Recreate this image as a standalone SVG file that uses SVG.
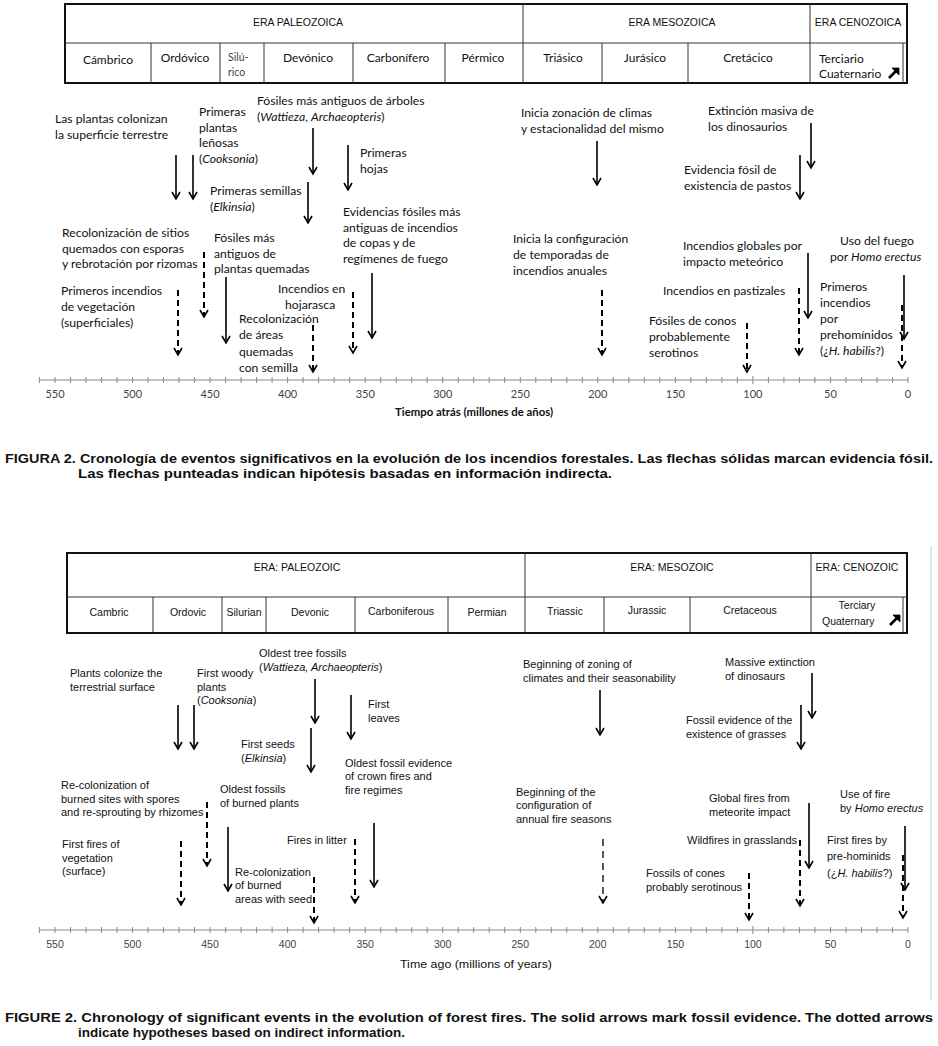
<svg xmlns="http://www.w3.org/2000/svg" width="938" height="1046" viewBox="0 0 938 1046">
<style>
.bg{fill:#fff}
.tb{fill:none;stroke:#111;stroke-width:2}
.tl{fill:none;stroke:#333;stroke-width:1}
.era{font-family:'Liberation Sans',Arial,sans-serif;font-size:10.5px;fill:#111;text-anchor:middle}
.per{font-family:Lato,'Liberation Sans',sans-serif;font-size:12px;fill:#111;text-anchor:middle}
.perl{font-family:Lato,'Liberation Sans',sans-serif;font-size:12px;fill:#111}
.eraen{font-family:'Liberation Sans Narrow','Liberation Sans',Arial,sans-serif;font-size:10.5px;fill:#111;text-anchor:middle}
.peren{font-family:'Liberation Sans Narrow','Liberation Sans',Arial,sans-serif;font-size:10.5px;fill:#111;text-anchor:middle}
.perenl{font-family:'Liberation Sans Narrow','Liberation Sans',Arial,sans-serif;font-size:10.5px;fill:#111}
.es{font-family:Lato,'Liberation Sans',sans-serif;font-size:12.2px;fill:#111}
.en{font-family:'Liberation Sans',Arial,sans-serif;font-size:11px;fill:#111}
.i{font-style:italic}
.sol{fill:none;stroke:#000;stroke-width:1.6;marker-end:url(#ah)}
.dsh{fill:none;stroke:#000;stroke-width:2;stroke-dasharray:6 4;marker-end:url(#ah)}
.axis{fill:none;stroke:#8a8a8a;stroke-width:1}
.tk{font-family:Lato,'Liberation Sans',sans-serif;font-size:11px;fill:#444;text-anchor:middle}
.tken{font-family:'Liberation Sans Narrow','Liberation Sans',Arial,sans-serif;font-size:10.5px;fill:#444;text-anchor:middle}
.ttl{font-family:Lato,'Liberation Sans',sans-serif;font-size:11.5px;font-weight:bold;fill:#111}
.ttlen{font-family:'Liberation Sans Narrow','Liberation Sans',Arial,sans-serif;font-size:11px;fill:#111}
.cap{font-family:'Liberation Sans Narrow','Liberation Sans',Arial,sans-serif;font-size:12.5px;font-weight:bold;fill:#111}
</style>
<defs>
<marker id="ah" viewBox="-1 -6 10 12" markerWidth="10" markerHeight="12" refX="7" refY="0" orient="auto" markerUnits="userSpaceOnUse">
<path d="M0,-4 L7,0 L0,4" fill="none" stroke="#000" stroke-width="1.6"/>
</marker>
<g id="ne">
<path d="M-5,5 L2,-2" stroke="#000" stroke-width="2.6" fill="none"/>
<path d="M-2,-5 L5,-5 L5,2 Z" fill="#000" stroke="#000" stroke-width="0.8"/>
</g>
<path id="ticks" class="axis" d="M39.4,0 H908 M908,-3 v6 M892.5,-3 v6 M877,-3 v6 M861.5,-3 v6 M846,-3 v6 M830.5,-3 v6 M814.9,-3 v6 M799.4,-3 v6 M783.9,-3 v6 M768.4,-3 v6 M752.9,-4 v8 M737.4,-3 v6 M721.9,-3 v6 M706.4,-3 v6 M690.9,-3 v6 M675.4,-3 v6 M659.8,-3 v6 M644.3,-3 v6 M628.8,-3 v6 M613.3,-3 v6 M597.8,-3 v6 M582.3,-3 v6 M566.8,-3 v6 M551.3,-3 v6 M535.8,-3 v6 M520.3,-3 v6 M504.7,-3 v6 M489.2,-3 v6 M473.7,-3 v6 M458.2,-3 v6 M442.7,-3 v6 M427.2,-3 v6 M411.7,-3 v6 M396.2,-3 v6 M380.7,-3 v6 M365.2,-3 v6 M349.6,-3 v6 M334.1,-3 v6 M318.6,-3 v6 M303.1,-3 v6 M287.6,-3 v6 M272.1,-3 v6 M256.6,-3 v6 M241.1,-3 v6 M225.6,-3 v6 M210.1,-3 v6 M194.5,-3 v6 M179,-3 v6 M163.5,-3 v6 M148,-3 v6 M132.5,-3 v6 M117,-3 v6 M101.5,-3 v6 M86,-3 v6 M70.5,-3 v6 M55,-3 v6 M39.4,-3 v6"/>
</defs>
<rect class="bg" x="0" y="0" width="938" height="1046"/>

<!-- ============ TOP PANEL (Spanish) ============ -->
<g id="tabla-es">
<rect class="tb" x="65" y="4" width="842" height="79"/>
<path class="tl" d="M65,43 H907 M523,4 V83 M810,4 V83 M151,43 V83 M220,43 V83 M264,43 V83 M353,43 V83 M445,43 V83 M602,43 V83 M688,43 V83 M903,43 V83"/>
<text class="era" x="298" y="26">ERA PALEOZOICA</text>
<text class="era" x="672" y="26">ERA MESOZOICA</text>
<text class="era" x="858" y="26">ERA CENOZOICA</text>
<text class="per" x="108" y="64">Cámbrico</text>
<text class="per" x="185" y="62">Ordóvico</text>
<text class="perl" x="228" y="61" style="font-size:10.5px;fill:#444">Silú-</text>
<text class="perl" x="228" y="76" style="font-size:10.5px;fill:#444">rico</text>
<text class="per" x="308" y="62">Devónico</text>
<text class="per" x="398" y="62">Carbonífero</text>
<text class="per" x="483" y="62">Pérmico</text>
<text class="per" x="563" y="62">Triásico</text>
<text class="per" x="645" y="62">Jurásico</text>
<text class="per" x="748" y="62">Cretácico</text>
<text class="perl" x="819" y="63">Terciario</text>
<text class="perl" x="819" y="78">Cuaternario</text>
<use href="#ne" x="894" y="73"/>
</g>

<g id="conectores-es">
<path class="sol" d="M176,155 V199"/>
<path class="sol" d="M193,155 V199"/>
<path class="sol" d="M313,128 V174"/>
<path class="sol" d="M348,145 V190"/>
<path class="sol" d="M308,182 V223"/>
<path class="sol" d="M372,273 V338"/>
<path class="sol" d="M226,277 V343"/>
<path class="dsh" d="M204,252 V317"/>
<path class="dsh" d="M178,290 V355"/>
<path class="dsh" d="M353,292 V353"/>
<path class="dsh" d="M313,325 V372"/>
<path class="sol" d="M597,141 V185"/>
<path class="sol" d="M811,123 V168"/>
<path class="sol" d="M800,155 V199"/>
<path class="dsh" d="M602,290 V355"/>
<path class="sol" d="M808,253 V318"/>
<path class="dsh" d="M799,288 V355"/>
<path class="sol" d="M904,275 V339"/>
<path class="dsh" d="M902,305 V368"/>
<path class="dsh" d="M747,323 V372"/>
</g>

<g id="e-plantas"><text class="es" x="55" y="123">Las plantas colonizan<tspan x="55" dy="15.5">la superficie  terrestre</tspan></text></g>
<g id="e-lenosas"><text class="es" x="199" y="116">Primeras<tspan x="199" dy="15.5">plantas</tspan><tspan x="199" dy="15.5">leñosas</tspan><tspan x="199" dy="15.5">(<tspan class="i">Cooksonia</tspan>)</tspan></text></g>
<g id="e-arboles"><text class="es" x="257" y="105">Fósiles más antiguos de árboles<tspan x="257" dy="16">(<tspan class="i">Wattieza</tspan>, <tspan class="i">Archaeopteris</tspan>)</tspan></text></g>
<g id="e-hojas"><text class="es" x="360" y="157">Primeras<tspan x="360" dy="16">hojas</tspan></text></g>
<g id="e-semillas"><text class="es" x="210" y="195">Primeras semillas<tspan x="210" dy="16">(<tspan class="i">Elkinsia</tspan>)</tspan></text></g>
<g id="e-copas"><text class="es" x="343" y="216">Evidencias fósiles más<tspan x="343" dy="15.7">antiguas de incendios</tspan><tspan x="343" dy="15.7">de copas y de</tspan><tspan x="343" dy="15.7">regímenes  de fuego</tspan></text></g>
<g id="e-recolon-sitios"><text class="es" x="62" y="237">Recolonización  de sitios<tspan x="62" dy="15.5">quemados con esporas</tspan><tspan x="62" dy="15.5">y rebrotación por  rizomas</tspan></text></g>
<g id="e-quemadas"><text class="es" x="214" y="242">Fósiles más<tspan x="214" dy="15.5">antiguos de</tspan><tspan x="214" dy="15.5">plantas quemadas</tspan></text></g>
<g id="e-primeros"><text class="es" x="61" y="295">Primeros incendios<tspan x="61" dy="16">de vegetación</tspan><tspan x="61" dy="15.5">(superficiales)</tspan></text></g>
<g id="e-hojarasca"><text class="es" x="278" y="293">Incendios  en<tspan x="285" dy="15.5">hojarasca</tspan></text></g>
<g id="e-recolon-areas"><text class="es" x="239" y="323">Recolonización<tspan x="239" dy="16.3">de áreas</tspan><tspan x="239" dy="16.3">quemadas</tspan><tspan x="239" dy="16.3">con semilla</tspan></text></g>
<g id="e-climas"><text class="es" x="521" y="117">Inicia zonación de climas<tspan x="521" dy="15.5">y estacionalidad del mismo</tspan></text></g>
<g id="e-dinos"><text class="es" x="708" y="115">Extinción masiva de<tspan x="708" dy="16">los dinosaurios</tspan></text></g>
<g id="e-pastos"><text class="es" x="684" y="174">Evidencia fósil de<tspan x="684" dy="16">existencia de pastos</tspan></text></g>
<g id="e-temporadas"><text class="es" x="513" y="243">Inicia la configuración<tspan x="513" dy="16">de temporadas de</tspan><tspan x="513" dy="16">incendios anuales</tspan></text></g>
<g id="e-meteorico"><text class="es" x="683" y="250">Incendios globales por<tspan x="683" dy="16">impacto meteórico</tspan></text></g>
<g id="e-erectus"><text class="es" x="840" y="245">Uso del fuego<tspan x="830" dy="16">por <tspan class="i">Homo erectus</tspan></tspan></text></g>
<g id="e-pastizales"><text class="es" x="663" y="295">Incendios en  pastizales</text></g>
<g id="e-prehominidos"><text class="es" x="820" y="291">Primeros<tspan x="820" dy="16">incendios</tspan><tspan x="820" dy="16">por</tspan><tspan x="820" dy="15.5">prehomínidos</tspan><tspan x="820" dy="16.5">(¿<tspan class="i">H. habilis</tspan>?)</tspan></text></g>
<g id="e-conos"><text class="es" x="649" y="325">Fósiles de conos<tspan x="649" dy="16">probablemente</tspan><tspan x="649" dy="16">serotinos</tspan></text></g>

<g id="eje-es">
<use href="#ticks" x="0" y="380"/>
<text class="tk" x="55" y="398">550</text>
<text class="tk" x="132.5" y="398">500</text>
<text class="tk" x="210" y="398">450</text>
<text class="tk" x="287.6" y="398">400</text>
<text class="tk" x="365.2" y="398">350</text>
<text class="tk" x="442.7" y="398">300</text>
<text class="tk" x="520.3" y="398">250</text>
<text class="tk" x="597.8" y="398">200</text>
<text class="tk" x="675.4" y="398">150</text>
<text class="tk" x="752.9" y="398">100</text>
<text class="tk" x="830.5" y="398">50</text>
<text class="tk" x="908" y="398">0</text>
<text class="ttl" x="395" y="416" textLength="158" lengthAdjust="spacingAndGlyphs">Tiempo atrás (millones de años)</text>
</g>
<g id="leyenda-es">
<text class="cap" x="5" y="463" textLength="928" lengthAdjust="spacingAndGlyphs">FIGURA 2. Cronología de eventos significativos en la evolución de los incendios forestales. Las flechas sólidas marcan evidencia fósil.</text>
<text class="cap" x="78" y="478" textLength="534" lengthAdjust="spacingAndGlyphs">Las flechas punteadas indican hipótesis basadas en información indirecta.</text>
</g>

<!-- ============ BOTTOM PANEL (English) ============ -->
<path d="M931,546 V1000" stroke="#d0d0d0" stroke-width="1" fill="none"/>
<g id="tabla-en">
<rect class="tb" x="67" y="553" width="840" height="80"/>
<path class="tl" d="M67,597 H907 M525,553 V633 M811,553 V633 M153,597 V633 M222,597 V633 M266,597 V633 M355,597 V633 M448,597 V633 M604,597 V633 M690,597 V633 M903,597 V633"/>
<text class="eraen" x="297" y="571">ERA: PALEOZOIC</text>
<text class="eraen" x="672" y="571">ERA: MESOZOIC</text>
<text class="eraen" x="857" y="571">ERA: CENOZOIC</text>
<text class="peren" x="109" y="616">Cambric</text>
<text class="peren" x="188" y="616">Ordovic</text>
<text class="peren" x="244" y="616">Silurian</text>
<text class="peren" x="310" y="616">Devonic</text>
<text class="peren" x="401" y="615">Carboniferous</text>
<text class="peren" x="487" y="616">Permian</text>
<text class="peren" x="565" y="615">Triassic</text>
<text class="peren" x="647" y="614">Jurassic</text>
<text class="peren" x="750" y="614">Cretaceous</text>
<text class="peren" x="857" y="609">Terciary</text>
<text class="perenl" x="822" y="625">Quaternary</text>
<use href="#ne" x="895" y="620"/>
</g>

<g id="conectores-en">
<path class="sol" d="M178,705 V749"/>
<path class="sol" d="M194,705 V749"/>
<path class="sol" d="M315,679 V723"/>
<path class="sol" d="M351,695 V739"/>
<path class="sol" d="M311,728 V772"/>
<path class="sol" d="M374,823 V887"/>
<path class="sol" d="M228,827 V891"/>
<path class="dsh" d="M207,802 V866"/>
<path class="dsh" d="M181,841 V905"/>
<path class="dsh" d="M355,839 V903"/>
<path class="dsh" d="M314,877 V923"/>
<path class="sol" d="M600,690 V735"/>
<path class="sol" d="M812,673 V718"/>
<path class="sol" d="M801,705 V749"/>
<path class="dsh" d="M603,839 V903" style="stroke-width:1.3;stroke-dasharray:7 5"/>
<path class="sol" d="M809,803 V868"/>
<path class="dsh" d="M800,840 V906"/>
<path class="sol" d="M905,826 V890"/>
<path class="dsh" d="M903,855 V918"/>
<path class="dsh" d="M749,873 V920"/>
</g>

<g id="n-plants"><text class="en" x="70" y="677">Plants colonize the<tspan x="70" dy="13.5">terrestrial surface</tspan></text></g>
<g id="n-woody"><text class="en" x="197" y="677">First woody<tspan x="197" dy="13.5">plants</tspan><tspan x="197" dy="13.5">(<tspan class="i">Cooksonia</tspan>)</tspan></text></g>
<g id="n-tree"><text class="en" x="259" y="657">Oldest tree fossils<tspan x="259" dy="13.5">(<tspan class="i">Wattieza, Archaeopteris</tspan>)</tspan></text></g>
<g id="n-leaves"><text class="en" x="368" y="708">First<tspan x="368" dy="13.5">leaves</tspan></text></g>
<g id="n-seeds"><text class="en" x="241" y="748">First seeds<tspan x="241" dy="13.5">(<tspan class="i">Elkinsia</tspan>)</tspan></text></g>
<g id="n-crown"><text class="en" x="345" y="767">Oldest fossil evidence<tspan x="345" dy="13">of crown fires and</tspan><tspan x="345" dy="13.5">fire regimes</tspan></text></g>
<g id="n-recol-sites"><text class="en" x="61" y="789">Re-colonization of<tspan x="61" dy="13.5">burned sites with spores</tspan><tspan x="61" dy="13.5">and re-sprouting by rhizomes</tspan></text></g>
<g id="n-burned"><text class="en" x="220" y="793">Oldest fossils<tspan x="220" dy="13.5">of burned plants</tspan></text></g>
<g id="n-firstfires"><text class="en" x="62" y="848">First fires of<tspan x="62" dy="13.5">vegetation</tspan><tspan x="62" dy="13.5">(surface)</tspan></text></g>
<g id="n-litter"><text class="en" x="287" y="844">Fires in litter</text></g>
<g id="n-recol-areas"><text class="en" x="235" y="876">Re-colonization<tspan x="235" dy="13.3">of burned</tspan><tspan x="235" dy="13.3">areas with seed</tspan></text></g>
<g id="n-climates"><text class="en" x="523" y="668">Beginning of zoning of<tspan x="523" dy="13.5">climates and their seasonability</tspan></text></g>
<g id="n-dinos"><text class="en" x="725" y="666">Massive extinction<tspan x="725" dy="13.5">of dinosaurs</tspan></text></g>
<g id="n-grasses"><text class="en" x="686" y="724">Fossil evidence of the<tspan x="686" dy="13.5">existence of grasses</tspan></text></g>
<g id="n-seasons"><text class="en" x="516" y="796">Beginning of the<tspan x="516" dy="13.3">configuration of</tspan><tspan x="516" dy="13.3">annual fire seasons</tspan></text></g>
<g id="n-meteorite"><text class="en" x="709" y="802">Global fires from<tspan x="709" dy="13.5">meteorite impact</tspan></text></g>
<g id="n-erectus"><text class="en" x="840" y="798">Use of fire<tspan x="840" dy="13.5">by <tspan class="i">Homo erectus</tspan></tspan></text></g>
<g id="n-grasslands"><text class="en" x="687" y="844">Wildfires in grasslands</text></g>
<g id="n-prehominids"><text class="en" x="827" y="844">First fires by<tspan x="827" dy="16">pre-hominids</tspan><tspan x="827" dy="16.5">(¿<tspan class="i">H. habilis</tspan>?)</tspan></text></g>
<g id="n-cones"><text class="en" x="646" y="877">Fossils of cones<tspan x="646" dy="13.5">probably serotinous</tspan></text></g>

<g id="eje-en">
<use href="#ticks" x="0" y="930"/>
<text class="tken" x="55" y="948">550</text>
<text class="tken" x="132.5" y="948">500</text>
<text class="tken" x="210" y="948">450</text>
<text class="tken" x="287.6" y="948">400</text>
<text class="tken" x="365.2" y="948">350</text>
<text class="tken" x="442.7" y="948">300</text>
<text class="tken" x="520.3" y="948">250</text>
<text class="tken" x="597.8" y="948">200</text>
<text class="tken" x="675.4" y="948">150</text>
<text class="tken" x="752.9" y="948">100</text>
<text class="tken" x="830.5" y="948">50</text>
<text class="tken" x="908" y="948">0</text>
<text class="ttlen" x="400" y="968" textLength="152" lengthAdjust="spacingAndGlyphs">Time ago (millions of years)</text>
</g>
<g id="leyenda-en">
<text class="cap" x="5" y="1022" textLength="928" lengthAdjust="spacingAndGlyphs">FIGURE 2. Chronology of significant events in the evolution of forest fires. The solid arrows mark fossil evidence. The dotted arrows</text>
<text class="cap" x="78" y="1037" textLength="327" lengthAdjust="spacingAndGlyphs">indicate hypotheses based on indirect information.</text>
</g>
</svg>
